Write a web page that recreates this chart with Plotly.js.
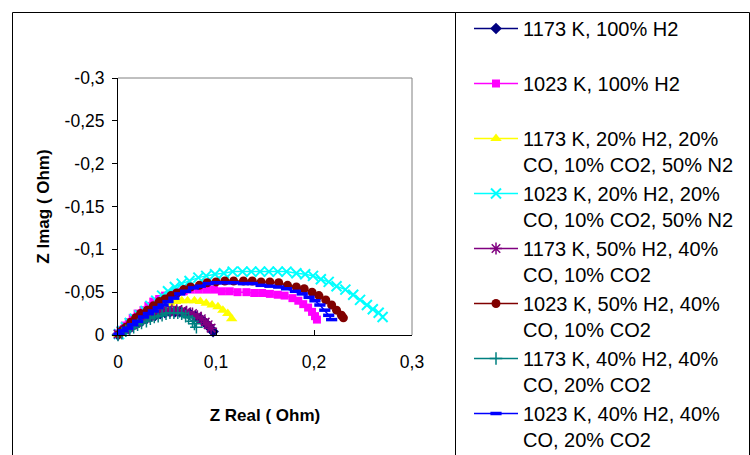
<!DOCTYPE html>
<html>
<head>
<meta charset="utf-8">
<script src="https://cdn.plot.ly/plotly-3.0.1.min.js"></script>
<style>
html,body{margin:0;padding:0;background:#ffffff;}
#chart{width:750px;height:455px;}
</style>
</head>
<body>
<div id="chart"></div>
<script>
// ---- Legend / series names ----
const seriesNames = [
  "1173 K, 100% H2<br> ",
  "1023 K, 100% H2<br> ",
  "1173 K, 20% H2, 20%<br>CO, 10% CO2, 50% N2",
  "1023 K, 20% H2, 20%<br>CO, 10% CO2, 50% N2",
  "1173 K, 50% H2, 40%<br>CO, 10% CO2",
  "1023 K, 50% H2, 40%<br>CO, 10% CO2",
  "1173 K, 40% H2, 40%<br>CO, 20% CO2",
  "1023 K, 40% H2, 40%<br>CO, 20% CO2"
];

// ---- Tick labels ----
const xTickVals = [0, 0.1, 0.2, 0.3];
const xTickText = ["0", "0,1", "0,2", "0,3"];
const yTickVals = [0, -0.05, -0.1, -0.15, -0.2, -0.25, -0.3];
const yTickText = ["0", "-0,05", "-0,1", "-0,15", "-0,2", "-0,25", "-0,3"];

// ---- Series data (Z real, Z imag) ----
const s1173H2_x = [0.000,0.004,0.008,0.012,0.016,0.020,0.024,0.029,0.033,0.038,0.043,0.048,0.053,0.058,0.063,0.068,0.073,0.079,0.084,0.088,0.092,0.095,0.097];
const s1173H2_y = [0.000,-0.004,-0.006,-0.008,-0.012,-0.014,-0.016,-0.019,-0.021,-0.023,-0.025,-0.026,-0.027,-0.027,-0.027,-0.026,-0.025,-0.022,-0.019,-0.015,-0.011,-0.007,-0.004];

const s1023H2_x = [0.000,0.003,0.007,0.011,0.015,0.020,0.026,0.031,0.036,0.042,0.048,0.054,0.060,0.067,0.074,0.082,0.090,0.098,0.106,0.114,0.122,0.131,0.139,0.147,0.155,0.163,0.170,0.178,0.184,0.189,0.194,0.198,0.201,0.203];
const s1023H2_y = [-0.002,-0.006,-0.011,-0.015,-0.020,-0.025,-0.029,-0.034,-0.039,-0.042,-0.046,-0.048,-0.050,-0.051,-0.053,-0.053,-0.053,-0.053,-0.051,-0.051,-0.050,-0.050,-0.049,-0.049,-0.048,-0.047,-0.046,-0.043,-0.040,-0.036,-0.032,-0.027,-0.022,-0.018];

const s1173N2_x = [0.000,0.004,0.008,0.013,0.018,0.023,0.029,0.035,0.041,0.047,0.053,0.059,0.065,0.071,0.078,0.084,0.090,0.096,0.102,0.107,0.112,0.116];
const s1173N2_y = [-0.001,-0.005,-0.008,-0.012,-0.016,-0.020,-0.025,-0.028,-0.032,-0.035,-0.037,-0.039,-0.040,-0.040,-0.040,-0.039,-0.037,-0.035,-0.033,-0.029,-0.025,-0.019];

const s1023N2_x = [0.001,0.004,0.008,0.012,0.017,0.022,0.028,0.033,0.039,0.045,0.051,0.058,0.065,0.073,0.082,0.090,0.099,0.108,0.117,0.127,0.136,0.145,0.154,0.163,0.172,0.182,0.191,0.199,0.207,0.215,0.223,0.232,0.240,0.247,0.254,0.260,0.266,0.270];
const s1023N2_y = [-0.001,-0.005,-0.009,-0.014,-0.019,-0.023,-0.028,-0.034,-0.040,-0.046,-0.051,-0.056,-0.060,-0.063,-0.067,-0.069,-0.071,-0.072,-0.074,-0.074,-0.074,-0.074,-0.074,-0.074,-0.074,-0.072,-0.071,-0.069,-0.065,-0.062,-0.057,-0.053,-0.047,-0.041,-0.035,-0.030,-0.026,-0.021];

const s1173CO10_x = [0.000,0.003,0.007,0.011,0.015,0.019,0.023,0.028,0.032,0.036,0.040,0.045,0.050,0.055,0.060,0.065,0.070,0.076,0.081,0.085,0.089,0.092,0.095];
const s1173CO10_y = [-0.001,-0.004,-0.006,-0.009,-0.012,-0.015,-0.018,-0.020,-0.022,-0.025,-0.027,-0.028,-0.029,-0.029,-0.029,-0.028,-0.027,-0.025,-0.022,-0.019,-0.015,-0.012,-0.008];

const s1023CO10_x = [0.001,0.004,0.008,0.013,0.018,0.023,0.030,0.036,0.042,0.048,0.054,0.060,0.067,0.074,0.083,0.091,0.100,0.109,0.118,0.128,0.137,0.146,0.155,0.164,0.173,0.182,0.190,0.198,0.205,0.212,0.218,0.223,0.228,0.230];
const s1023CO10_y = [-0.001,-0.005,-0.009,-0.015,-0.020,-0.025,-0.029,-0.034,-0.039,-0.042,-0.046,-0.049,-0.053,-0.056,-0.058,-0.061,-0.062,-0.063,-0.063,-0.063,-0.063,-0.062,-0.062,-0.061,-0.058,-0.056,-0.054,-0.050,-0.046,-0.041,-0.035,-0.029,-0.023,-0.020];

const s1173CO20_x = [0.000,0.004,0.008,0.012,0.016,0.020,0.024,0.029,0.033,0.037,0.041,0.045,0.049,0.053,0.057,0.061,0.065,0.069,0.072,0.076,0.078,0.080];
const s1173CO20_y = [0.000,-0.002,-0.005,-0.007,-0.009,-0.012,-0.014,-0.016,-0.019,-0.021,-0.022,-0.023,-0.025,-0.026,-0.026,-0.026,-0.025,-0.022,-0.020,-0.016,-0.013,-0.009];

const s1023CO20_x = [0.001,0.005,0.010,0.015,0.020,0.026,0.031,0.036,0.041,0.046,0.051,0.057,0.063,0.069,0.077,0.084,0.092,0.100,0.109,0.118,0.128,0.137,0.146,0.155,0.164,0.172,0.181,0.188,0.195,0.201,0.206,0.211,0.215,0.218];
const s1023CO20_y = [-0.001,-0.005,-0.008,-0.012,-0.016,-0.021,-0.025,-0.028,-0.032,-0.035,-0.039,-0.043,-0.048,-0.051,-0.055,-0.057,-0.060,-0.061,-0.061,-0.061,-0.060,-0.060,-0.058,-0.057,-0.056,-0.054,-0.051,-0.048,-0.044,-0.040,-0.035,-0.029,-0.023,-0.018];

// ---- Styling ----
const FONT = "Liberation Sans, Arial, Helvetica, sans-serif";
const styles = [
  {color:"#000080", symbol:"diamond", size:9, lw:0},
  {color:"#FF00FF", symbol:"square", size:8, lw:0},
  {color:"#FFFF00", symbol:"triangle-up", size:10, lw:0},
  {color:"#00FFFF", symbol:"x-thin", size:10, lw:2},
  {color:"#800080", symbol:"asterisk", size:10, lw:1.5},
  {color:"#800000", symbol:"circle", size:9, lw:0},
  {color:"#008080", symbol:"cross-thin", size:9, lw:1.5},
  {color:"#0000FF", symbol:"line-ew", size:8, lw:3.5}
];
const xs = [s1173H2_x, s1023H2_x, s1173N2_x, s1023N2_x, s1173CO10_x, s1023CO10_x, s1173CO20_x, s1023CO20_x];
const ys = [s1173H2_y, s1023H2_y, s1173N2_y, s1023N2_y, s1173CO10_y, s1023CO10_y, s1173CO20_y, s1023CO20_y];

const traces = seriesNames.map((name, i) => ({
  type: "scatter",
  mode: "lines+markers",
  name: name,
  x: xs[i],
  y: ys[i],
  cliponaxis: false,
  line: {color: styles[i].color, width: 1.5},
  marker: {
    symbol: styles[i].symbol,
    size: styles[i].size,
    color: styles[i].color,
    line: {color: styles[i].color, width: styles[i].lw}
  }
}));

// plot area in px: x 118..412, y 78..335
const L = 118, R = 338, T = 78, B = 120, W = 750, H = 455;
const pw = W - L - R, ph = H - T - B;
const px = v => (v - L) / pw;
const py = v => (H - B - v) / ph;

const layout = {
  width: W, height: H,
  margin: {l: L, r: R, t: T, b: B, pad: 0, autoexpand: false},
  paper_bgcolor: "#ffffff",
  plot_bgcolor: "#ffffff",
  font: {family: FONT, color: "#000000", size: 17.5},
  showlegend: true,
  xaxis: {
    range: [0, 0.3],
    tickvals: xTickVals, ticktext: xTickText,
    ticks: "inside", ticklen: 5, tickwidth: 1, tickcolor: "#000000",
    showline: true, linecolor: "#000000", linewidth: 1,
    showgrid: false, zeroline: false,
    tickfont: {family: FONT, size: 17.5, color: "#000000"},
    ticklabelstandoff: 11,
    title: {text: "Z Real ( Ohm)", font: {family: FONT, size: 17, color: "#000000", weight: "bold"}, standoff: 38}
  },
  yaxis: {
    range: [0, -0.3],
    tickvals: yTickVals, ticktext: yTickText,
    ticks: "outside", ticklen: 5, tickwidth: 1, tickcolor: "#000000",
    showline: true, linecolor: "#000000", linewidth: 1,
    showgrid: false, zeroline: false,
    tickfont: {family: FONT, size: 17.5, color: "#000000"},
    ticklabelstandoff: 4,
    title: {text: "Z Imag ( Ohm)", font: {family: FONT, size: 17, color: "#000000", weight: "bold"}, standoff: 10}
  },
  legend: {
    x: px(469), y: py(9), xanchor: "left", yanchor: "top",
    bgcolor: "rgba(0,0,0,0)", borderwidth: 0,
    font: {family: FONT, size: 20, color: "#000000"},
    itemwidth: 44, valign: "top", traceorder: "normal",
    maxheight: 2000
  },
  shapes: [
    {type: "rect", xref: "paper", yref: "paper", x0: px(12.5), x1: px(455.5), y0: py(480), y1: py(12.5), line: {color: "#000000", width: 1}, fillcolor: "rgba(0,0,0,0)", layer: "above"},
    {type: "rect", xref: "paper", yref: "paper", x0: px(455.5), x1: px(749.5), y0: py(480), y1: py(12.5), line: {color: "#000000", width: 1}, fillcolor: "rgba(0,0,0,0)", layer: "above"},
    {type: "line", xref: "paper", yref: "paper", x0: 0, x1: 1, y0: 1, y1: 1, line: {color: "#808080", width: 1}, layer: "above"},
    {type: "line", xref: "paper", yref: "paper", x0: 1, x1: 1, y0: 0, y1: 1, line: {color: "#808080", width: 1}, layer: "above"}
  ]
};

Plotly.newPlot("chart", traces, layout, {displayModeBar: false, staticPlot: true});
</script>
</body>
</html>
